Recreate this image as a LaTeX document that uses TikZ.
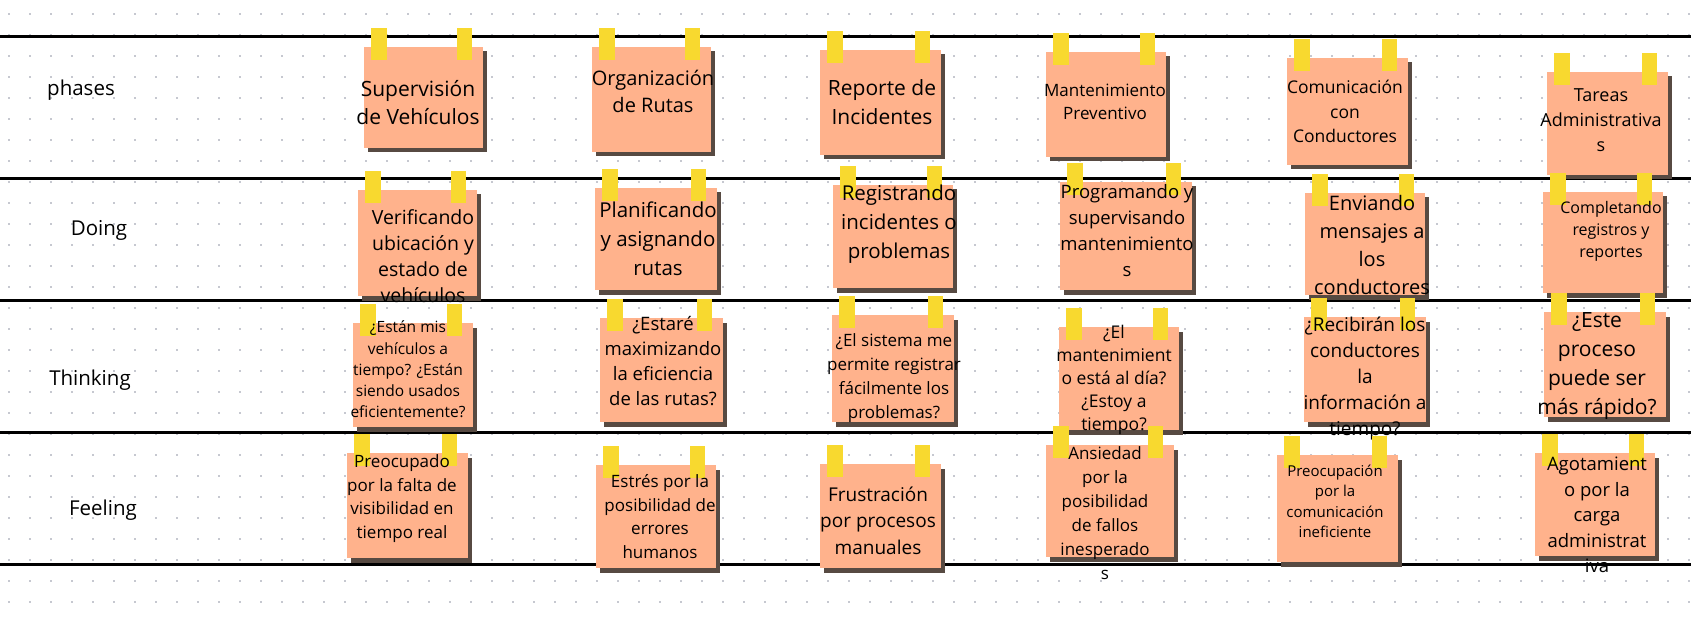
\documentclass[tikz,border=0pt]{standalone}
\usepackage{fontspec}
\setmainfont{Open Sans}
\usetikzlibrary{fit,shadows}
\definecolor{paperc}{HTML}{FFB28C}
\definecolor{shadowc}{HTML}{574A42}
\definecolor{tapec}{HTML}{F8D92F}
\definecolor{dotc}{HTML}{C6C8D0}
\tikzset{
  paper/.style={inner sep=0pt, outer sep=0pt, fill=paperc,
    drop shadow={shadow xshift=4pt, shadow yshift=-4.5pt, fill=shadowc, opacity=1}},
  tape/.style={fill=tapec},
  ntxt/.style={align=center, inner sep=0pt, text=black},
  lbl/.style={inner sep=0pt, font=\fontsize{20.5}{26}\selectfont},
  hline/.style={line width=3pt, black},
}
\newcommand{\snote}[5]{%
  \node[paper, fit={(#2,#3) (#4,#5)}] (#1) {};
  \fill[tape] ([shift={(7pt,19pt)}]#1.north west) rectangle ([shift={(23pt,-13pt)}]#1.north west);
  \fill[tape] ([shift={(-26pt,19pt)}]#1.north east) rectangle ([shift={(-11pt,-13pt)}]#1.north east);
}
\newcommand{\ntext}[6]{%
  \node[ntxt, font=\fontsize{#4}{#5}\selectfont] (#1t) at (#2,#3) {#6};
}
\begin{document}
\begin{tikzpicture}[x=1pt,y=-1pt]
\useasboundingbox (0,0) rectangle (1691,620);
\fill[white] (0,0) rectangle (1691,620);
\foreach \i in {0,...,80} {
  \foreach \j in {0,...,29} {
    \fill[dotc] (7.7+21*\i,12.7+21*\j) rectangle ++(2.6,2.6);
  }
}
\foreach \yy in {37,179,300,432,564} {
  \draw[hline] (0,\yy) -- (1691,\yy);
}
% row labels
\node[lbl] (lphases) at (81,90) {phases};
\node[lbl] (ldoing) at (99,230) {Doing};
\node[lbl] (lthinking) at (90,380) {Thinking};
\node[lbl] (lfeeling) at (103,510) {Feeling};
% row 1
\snote{n11}{364}{47}{483}{148}
\ntext{n11}{418}{102.5}{21}{28.5}{Supervisión\\de Vehículos}
\snote{n12}{592}{47}{711}{152}
\ntext{n12}{653}{91.5}{20}{27}{Organización\\de Rutas}
\snote{n13}{820}{50}{941}{155}
\ntext{n13}{882}{102.5}{21}{29}{Reporte de\\Incidentes}
\snote{n14}{1046}{52}{1166}{157}
\ntext{n14}{1105}{101.5}{17}{23}{Mantenimiento\\Preventivo}
\snote{n15}{1287}{58}{1408}{165}
\ntext{n15}{1345}{111.5}{17.5}{24.5}{Comunicación\\con\\Conductores}
\snote{n16}{1547}{72}{1668}{175}
\ntext{n16}{1601}{120}{18}{25}{Tareas\\Administrativa\\s}
% row 2
\snote{n21}{358}{190}{477}{296}
\ntext{n21}{423}{256}{19.5}{26.2}{Verificando\\ubicación y\\estado de\\vehículos}
\snote{n22}{595}{188}{717}{290}
\ntext{n22}{658}{239}{20.5}{29}{Planificando\\y asignando\\rutas}
\snote{n23}{833}{185}{953}{288}
\ntext{n23}{899}{224}{20.5}{29}{Registrando\\incidentes o\\problemas}
\snote{n24}{1060}{182}{1192}{290}
\ntext{n24}{1127}{231}{18.5}{26}{Programando y\\supervisando\\mantenimiento\\s}
\snote{n25}{1305}{193}{1425}{295}
\ntext{n25}{1372}{245}{20}{28}{Enviando\\mensajes a\\los\\conductores}
\snote{n26}{1543}{192}{1663}{293}
\ntext{n26}{1611}{231}{16}{22}{Completando\\registros y\\reportes}
% row 3
\snote{n31}{353}{323}{473}{427}
\ntext{n31}{408}{369.5}{15.5}{21.2}{¿Están mis\\vehículos a\\tiempo? ¿Están\\siendo usados\\eficientemente?}
\snote{n32}{600}{318}{723}{422}
\ntext{n32}{663}{361}{18.5}{25.3}{¿Estaré\\maximizando\\la eficiencia\\de las rutas?}
\snote{n33}{832}{315}{954}{422}
\ntext{n33}{894}{378}{17}{24}{¿El sistema me\\permite registrar\\fácilmente los\\problemas?}
\snote{n34}{1059}{327}{1179}{430}
\ntext{n34}{1114}{380}{17.5}{23}{¿El\\mantenimient\\o está al día?\\¿Estoy a\\tiempo?}
\snote{n35}{1304}{317}{1426}{422}
\ntext{n35}{1365}{379}{19}{26}{¿Recibirán los\\conductores\\la\\información a\\tiempo?}
\snote{n36}{1544}{312}{1666}{417}
\ntext{n36}{1597}{366.5}{21}{29}{¿Este\\proceso\\puede ser\\más rápido?}
% row 4
\snote{n41}{347}{453}{468}{558}
\ntext{n41}{402}{498.5}{17}{23.7}{Preocupado\\por la falta de\\visibilidad en\\tiempo real}
\snote{n42}{596}{465}{716}{568}
\ntext{n42}{660}{516.5}{17}{23.7}{Estrés por la\\posibilidad de\\errores\\humanos}
\snote{n43}{820}{464}{941}{568}
\ntext{n43}{878}{520.5}{19}{26.5}{Frustración\\por procesos\\manuales}
\snote{n44}{1046}{445}{1174}{557}
\ntext{n44}{1105}{513}{17}{24}{Ansiedad\\por la\\posibilidad\\de fallos\\inesperado\\s}
\snote{n45}{1277}{455}{1398}{562}
\ntext{n45}{1335}{501.5}{15}{20.5}{Preocupación\\por la\\comunicación\\ineficiente}
\snote{n46}{1535}{453}{1655}{556}
\ntext{n46}{1597}{515}{18.5}{25.5}{Agotamient\\o por la\\carga\\administrat\\iva}
\end{tikzpicture}
\end{document}
